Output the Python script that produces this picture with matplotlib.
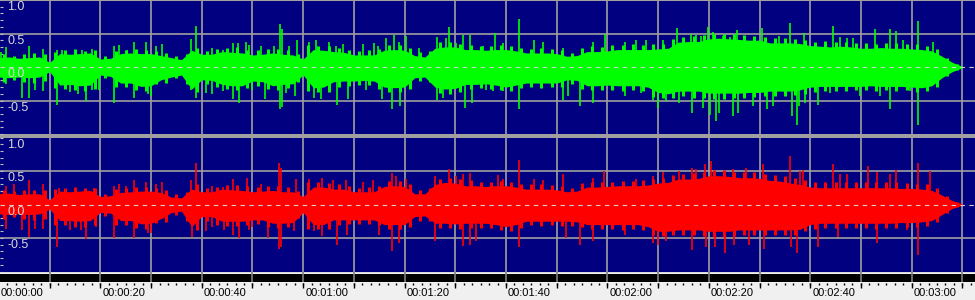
import numpy as np
import matplotlib.pyplot as plt

# ---- data ----
# body envelope of each channel, one value every 2 s (0 .. 190 s)
body_t = np.arange(0, 191, 2)
green_hi = [0.14, 0.15, 0.13, 0.14, 0.15, 0.07, 0.20, 0.19, 0.20, 0.21,
            0.12, 0.13, 0.20, 0.21, 0.20, 0.20, 0.17, 0.14, 0.11, 0.25,
            0.19, 0.19, 0.23, 0.22, 0.21, 0.18, 0.19, 0.21, 0.19, 0.18,
            0.12, 0.26, 0.25, 0.23, 0.22, 0.18, 0.18, 0.18, 0.25, 0.26,
            0.25, 0.17, 0.15, 0.28, 0.30, 0.30, 0.26, 0.26, 0.25, 0.26,
            0.26, 0.24, 0.21, 0.21, 0.21, 0.20, 0.16, 0.17, 0.23, 0.23,
            0.24, 0.26, 0.26, 0.26, 0.26, 0.27, 0.28, 0.37, 0.38, 0.38,
            0.42, 0.43, 0.42, 0.41, 0.40, 0.40, 0.36, 0.36, 0.36, 0.35,
            0.32, 0.31, 0.30, 0.31, 0.30, 0.28, 0.28, 0.29, 0.28, 0.28,
            0.27, 0.26, 0.24, 0.16, 0.07, 0.01]
green_lo = [0.15, 0.16, 0.15, 0.16, 0.15, 0.07, 0.27, 0.26, 0.28, 0.27,
            0.12, 0.14, 0.24, 0.24, 0.29, 0.28, 0.19, 0.15, 0.12, 0.33,
            0.19, 0.20, 0.26, 0.28, 0.28, 0.21, 0.22, 0.28, 0.26, 0.25,
            0.12, 0.31, 0.30, 0.22, 0.21, 0.21, 0.20, 0.21, 0.30, 0.31,
            0.30, 0.16, 0.15, 0.30, 0.33, 0.32, 0.26, 0.26, 0.25, 0.27,
            0.30, 0.27, 0.24, 0.24, 0.24, 0.24, 0.19, 0.20, 0.28, 0.28,
            0.27, 0.28, 0.28, 0.28, 0.30, 0.38, 0.40, 0.36, 0.36, 0.36,
            0.39, 0.39, 0.39, 0.39, 0.38, 0.38, 0.36, 0.36, 0.36, 0.34,
            0.30, 0.29, 0.29, 0.29, 0.29, 0.29, 0.28, 0.29, 0.29, 0.29,
            0.30, 0.31, 0.28, 0.16, 0.07, 0.01]
red_hi = [0.16, 0.17, 0.15, 0.16, 0.16, 0.07, 0.20, 0.19, 0.20, 0.21,
          0.12, 0.13, 0.18, 0.19, 0.20, 0.20, 0.18, 0.11, 0.10, 0.23,
          0.19, 0.19, 0.23, 0.22, 0.21, 0.19, 0.20, 0.21, 0.19, 0.19,
          0.12, 0.26, 0.26, 0.23, 0.23, 0.19, 0.19, 0.19, 0.27, 0.28,
          0.27, 0.16, 0.16, 0.30, 0.33, 0.32, 0.28, 0.28, 0.27, 0.28,
          0.28, 0.26, 0.23, 0.23, 0.23, 0.22, 0.19, 0.20, 0.26, 0.26,
          0.27, 0.28, 0.28, 0.28, 0.29, 0.32, 0.33, 0.38, 0.38, 0.39,
          0.43, 0.43, 0.42, 0.40, 0.40, 0.39, 0.36, 0.35, 0.32, 0.30,
          0.26, 0.25, 0.25, 0.25, 0.25, 0.25, 0.25, 0.25, 0.25, 0.24,
          0.24, 0.23, 0.21, 0.14, 0.06, 0.01]
red_lo = [0.14, 0.15, 0.14, 0.15, 0.14, 0.07, 0.24, 0.24, 0.25, 0.24,
          0.12, 0.13, 0.24, 0.24, 0.29, 0.28, 0.21, 0.12, 0.10, 0.33,
          0.18, 0.18, 0.25, 0.25, 0.25, 0.23, 0.23, 0.28, 0.28, 0.27,
          0.12, 0.30, 0.30, 0.23, 0.23, 0.23, 0.23, 0.23, 0.30, 0.30,
          0.30, 0.18, 0.17, 0.28, 0.28, 0.29, 0.28, 0.28, 0.28, 0.30,
          0.33, 0.30, 0.25, 0.25, 0.25, 0.25, 0.25, 0.26, 0.30, 0.30,
          0.30, 0.30, 0.30, 0.30, 0.33, 0.40, 0.40, 0.38, 0.38, 0.38,
          0.40, 0.40, 0.40, 0.38, 0.38, 0.38, 0.38, 0.38, 0.38, 0.37,
          0.30, 0.28, 0.28, 0.28, 0.28, 0.28, 0.28, 0.28, 0.28, 0.27,
          0.27, 0.26, 0.24, 0.15, 0.06, 0.01]

# ragged edge of the body: one tooth at every odd second (1 .. 189 s)
teeth_t = np.arange(1, 190, 2)
green_teeth_up = [0.20, 0.17, 0.20, 0.21, 0.19, 0.22, 0.25, 0.27, 0.24, 0.25,
                  0.16, 0.24, 0.26, 0.27, 0.25, 0.24, 0.21, 0.16, 0.20, 0.28,
                  0.24, 0.27, 0.29, 0.30, 0.25, 0.25, 0.27, 0.27, 0.26, 0.20,
                  0.33, 0.32, 0.31, 0.29, 0.26, 0.24, 0.25, 0.27, 0.33, 0.33,
                  0.29, 0.22, 0.24, 0.37, 0.38, 0.35, 0.33, 0.31, 0.32, 0.33,
                  0.32, 0.28, 0.27, 0.28, 0.27, 0.25, 0.21, 0.28, 0.31, 0.30,
                  0.33, 0.33, 0.34, 0.33, 0.34, 0.35, 0.42, 0.45, 0.46, 0.48,
                  0.50, 0.50, 0.49, 0.48, 0.47, 0.45, 0.44, 0.43, 0.42, 0.40,
                  0.38, 0.39, 0.38, 0.37, 0.36, 0.36, 0.35, 0.36, 0.36, 0.35,
                  0.34, 0.32, 0.27, 0.14, 0.05]
green_teeth_dn = [0.22, 0.20, 0.23, 0.24, 0.21, 0.32, 0.33, 0.35, 0.36, 0.33,
                  0.17, 0.30, 0.30, 0.35, 0.36, 0.26, 0.24, 0.17, 0.25, 0.38,
                  0.26, 0.30, 0.33, 0.35, 0.31, 0.28, 0.33, 0.35, 0.32, 0.22,
                  0.36, 0.38, 0.37, 0.30, 0.28, 0.27, 0.27, 0.33, 0.38, 0.38,
                  0.33, 0.21, 0.22, 0.39, 0.40, 0.37, 0.33, 0.32, 0.33, 0.35,
                  0.36, 0.32, 0.30, 0.31, 0.30, 0.30, 0.26, 0.33, 0.35, 0.34,
                  0.34, 0.36, 0.35, 0.36, 0.45, 0.47, 0.46, 0.44, 0.46, 0.47,
                  0.48, 0.48, 0.47, 0.46, 0.45, 0.44, 0.44, 0.43, 0.42, 0.40,
                  0.37, 0.36, 0.36, 0.36, 0.35, 0.35, 0.36, 0.35, 0.36, 0.35,
                  0.37, 0.36, 0.30, 0.14, 0.05]
red_teeth_up = [0.22, 0.20, 0.22, 0.21, 0.21, 0.23, 0.25, 0.26, 0.24, 0.25,
                0.16, 0.23, 0.24, 0.26, 0.26, 0.24, 0.22, 0.15, 0.19, 0.30,
                0.25, 0.26, 0.29, 0.29, 0.27, 0.26, 0.27, 0.27, 0.26, 0.20,
                0.33, 0.33, 0.32, 0.30, 0.28, 0.25, 0.26, 0.27, 0.35, 0.35,
                0.31, 0.22, 0.24, 0.38, 0.40, 0.38, 0.36, 0.34, 0.34, 0.35,
                0.34, 0.30, 0.30, 0.30, 0.29, 0.28, 0.25, 0.32, 0.33, 0.34,
                0.34, 0.35, 0.35, 0.36, 0.38, 0.40, 0.44, 0.46, 0.47, 0.49,
                0.52, 0.51, 0.49, 0.48, 0.48, 0.46, 0.44, 0.42, 0.40, 0.37,
                0.34, 0.34, 0.33, 0.33, 0.33, 0.34, 0.33, 0.33, 0.33, 0.32,
                0.31, 0.30, 0.24, 0.12, 0.04]
red_teeth_dn = [0.21, 0.19, 0.22, 0.23, 0.21, 0.30, 0.31, 0.33, 0.33, 0.30,
                0.17, 0.30, 0.30, 0.35, 0.36, 0.28, 0.26, 0.16, 0.24, 0.38,
                0.25, 0.30, 0.32, 0.32, 0.30, 0.29, 0.33, 0.35, 0.34, 0.20,
                0.36, 0.37, 0.36, 0.30, 0.29, 0.29, 0.29, 0.31, 0.37, 0.37,
                0.34, 0.24, 0.24, 0.35, 0.35, 0.36, 0.35, 0.35, 0.35, 0.38,
                0.39, 0.35, 0.31, 0.32, 0.31, 0.32, 0.32, 0.34, 0.37, 0.37,
                0.37, 0.38, 0.37, 0.38, 0.45, 0.47, 0.46, 0.46, 0.46, 0.47,
                0.48, 0.48, 0.47, 0.46, 0.46, 0.46, 0.46, 0.46, 0.45, 0.40,
                0.36, 0.35, 0.35, 0.35, 0.35, 0.35, 0.36, 0.35, 0.35, 0.34,
                0.34, 0.32, 0.26, 0.12, 0.04]

# single peaks sticking out of the body (time [s], amplitude)
green_up_t = [0.3, 1.4, 5.9, 8.6, 11.5, 12.5, 16.3, 18.4, 22.7, 23.7, 25.3, 26.6, 29.0,
              30.9, 32.2, 37.8, 38.8, 42.1, 44.1, 46.1, 47.1, 48.7, 49.4, 51.7, 54.3,
              55.5, 55.9, 57.2, 58.8, 61.2, 62.5, 65.1, 66.4, 67.8, 71.7, 73.9, 74.7,
              76.3, 77.9, 78.9, 80.2, 82.9, 86.4, 88.2, 88.8, 90.1, 91.5, 92.8, 95.4,
              97.8, 99.4, 102.5, 105.6, 107.2, 111.3, 117.2, 119.5, 123.4, 125.7, 127.7,
              131.0, 133.7, 135.2, 136.5, 137.5, 138.5, 139.9, 140.8, 142.8, 144.1,
              145.5, 147.1, 150.5, 153.9, 155.2, 156.0, 158.7, 164.4, 165.8, 167.2,
              168.5, 172.8, 175.7, 177.0, 178.3, 181.3, 184.3]
green_up_v = [0.23, 0.30, 0.32, 0.27, 0.26, 0.26, 0.26, 0.27, 0.31, 0.33, 0.26, 0.38, 0.37,
              0.31, 0.34, 0.42, 0.61, 0.28, 0.26, 0.36, 0.36, 0.38, 0.33, 0.31, 0.31,
              0.64, 0.56, 0.31, 0.41, 0.37, 0.41, 0.37, 0.31, 0.34, 0.34, 0.36, 0.31,
              0.43, 0.48, 0.38, 0.46, 0.28, 0.45, 0.43, 0.60, 0.36, 0.48, 0.48, 0.31,
              0.51, 0.36, 0.71, 0.41, 0.37, 0.28, 0.37, 0.50, 0.38, 0.41, 0.41,
              0.41, 0.58, 0.41, 0.50, 0.48, 0.46, 0.59, 0.52, 0.46, 0.45,
              0.55, 0.43, 0.58, 0.46, 0.41, 0.65, 0.51, 0.61, 0.45, 0.43,
              0.43, 0.56, 0.56, 0.54, 0.41, 0.69, 0.37]
green_dn_t = [1.4, 4.6, 5.9, 7.2, 8.6, 11.5, 14.0, 15.5, 17.1, 18.4, 19.7, 22.7, 26.6,
              29.3, 30.0, 37.8, 38.8, 40.8, 42.1, 44.1, 46.1, 47.4, 49.9, 52.4, 55.5,
              55.9, 56.6, 58.4, 62.2, 63.5, 66.7, 68.8, 72.4, 75.5, 77.6, 79.0, 86.4,
              87.6, 91.9, 93.2, 96.0, 97.5, 99.4, 102.5, 111.3, 112.2, 114.5, 117.2,
              123.4, 126.6, 129.0, 130.0, 131.6, 134.2, 136.7, 138.9, 140.2, 141.4,
              142.1, 144.8, 145.8, 148.8, 151.4, 152.7, 156.5, 157.3, 157.8, 158.9,
              161.6, 163.9, 169.8, 173.7, 175.7, 179.7, 181.3, 183.0]
green_dn_v = [0.26, 0.46, 0.47, 0.35, 0.36, 0.57, 0.38, 0.40, 0.50, 0.34, 0.35, 0.53, 0.47,
              0.41, 0.44, 0.34, 0.46, 0.39, 0.41, 0.36, 0.48, 0.53, 0.34, 0.48, 0.63,
              0.60, 0.39, 0.44, 0.46, 0.48, 0.57, 0.48, 0.35, 0.48, 0.63, 0.58, 0.49,
              0.46, 0.61, 0.53, 0.34, 0.36, 0.36, 0.62, 0.49, 0.44, 0.58, 0.53,
              0.44, 0.39, 0.49, 0.61, 0.51, 0.53, 0.68, 0.61, 0.71, 0.80,
              0.68, 0.73, 0.68, 0.58, 0.63, 0.58, 0.73, 0.87, 0.58, 0.53,
              0.56, 0.39, 0.44, 0.44, 0.63, 0.36, 0.87, 0.36]
red_up_t = [1.3, 3.0, 5.9, 8.6, 11.8, 18.8, 22.7, 23.7, 25.0, 26.6, 29.0, 30.9, 32.2,
            37.8, 38.8, 42.1, 44.1, 46.1, 49.0, 51.7, 55.3, 55.7, 58.5, 61.2, 63.8,
            65.8, 68.4, 71.7, 73.7, 77.6, 78.3, 80.3, 85.9, 88.7, 90.1, 91.5, 92.8,
            98.4, 99.4, 102.5, 105.6, 107.3, 111.2, 117.1, 119.4, 125.7, 129.0, 131.0,
            134.2, 136.7, 137.5, 139.2, 140.5, 144.8, 147.4, 150.7, 156.0, 157.9,
            158.6, 164.4, 165.8, 167.2, 171.4, 173.1, 175.7, 177.0, 181.3, 183.6]
red_up_v = [0.28, 0.30, 0.36, 0.30, 0.25, 0.25, 0.27, 0.30, 0.28, 0.36, 0.34, 0.30, 0.33,
            0.36, 0.62, 0.28, 0.26, 0.38, 0.39, 0.31, 0.62, 0.55, 0.38, 0.38, 0.40,
            0.36, 0.36, 0.33, 0.36, 0.47, 0.43, 0.38, 0.43, 0.53, 0.43, 0.45, 0.47,
            0.44, 0.38, 0.66, 0.38, 0.36, 0.45, 0.39, 0.50, 0.38, 0.43, 0.48,
            0.50, 0.55, 0.53, 0.60, 0.65, 0.53, 0.55, 0.61, 0.73, 0.50,
            0.51, 0.60, 0.45, 0.45, 0.57, 0.48, 0.45, 0.52, 0.62, 0.50]
red_dn_t = [1.3, 4.6, 5.9, 7.2, 8.6, 11.5, 14.1, 16.1, 17.1, 19.1, 22.7, 26.6, 29.3,
            29.9, 38.0, 40.8, 42.1, 44.3, 46.1, 47.4, 49.4, 50.0, 53.0, 55.3, 55.7,
            58.2, 62.2, 63.8, 66.7, 68.6, 75.0, 77.6, 78.9, 85.9, 91.5, 92.8, 94.1,
            102.5, 111.9, 114.5, 117.1, 123.4, 129.0, 130.0, 131.6, 136.7, 139.5,
            141.2, 143.1, 145.0, 148.0, 150.9, 156.3, 157.3, 161.6, 165.5, 173.1,
            179.1, 181.3]
red_dn_v = [0.36, 0.38, 0.48, 0.36, 0.37, 0.63, 0.38, 0.38, 0.52, 0.33, 0.50, 0.50, 0.43,
            0.43, 0.49, 0.40, 0.33, 0.38, 0.45, 0.50, 0.38, 0.33, 0.50, 0.67, 0.64,
            0.40, 0.40, 0.47, 0.60, 0.45, 0.45, 0.69, 0.57, 0.54, 0.62, 0.60, 0.55,
            0.64, 0.50, 0.60, 0.55, 0.45, 0.57, 0.60, 0.55, 0.68, 0.64,
            0.64, 0.72, 0.60, 0.60, 0.67, 0.63, 0.73, 0.63, 0.48, 0.58,
            0.38, 0.76]

y_labels = ["1.0", "0.5", "0.0", "-0.5"]
y_label_pos = [1.0, 0.5, 0.0, -0.5]

# ---- look of the editor ----
BG = "#000080"
GRID = "#a0a0a0"
T0, T1 = 0.2, 192.5          # visible time span [s]

fig = plt.figure(figsize=(9.75, 3), dpi=100, facecolor="#a0a0a0")
ax_top = fig.add_axes([0, 1 - 134 / 300, 1, 134 / 300])
ax_bot = fig.add_axes([0, 28.5 / 300, 1, 134 / 300])
ax_time = fig.add_axes([0, 0, 1, 28.5 / 300])


def channel(ax, hi, lo, th, tl, up_t, up_v, dn_t, dn_v, color):
    ax.set_facecolor(BG)
    ax.set_xlim(T0, T1)
    ax.set_ylim(-1, 1)
    for t in np.arange(0, 191, 10):
        ax.axvline(t, color=GRID, lw=1.2, zorder=1)
    for v in (0.5, -0.5):
        ax.axhline(v, color=GRID, lw=1.2, zorder=1)
    ax.fill_between(body_t, -np.array(lo), hi, color=color, lw=0, zorder=2)
    ax.vlines(teeth_t, -np.array(tl), th, color=color, lw=2.2, zorder=2)
    ax.vlines(up_t, 0, up_v, color=color, lw=1.2, zorder=2)
    ax.vlines(dn_t, -np.array(dn_v), 0, color=color, lw=1.2, zorder=2)
    ax.axhline(0, color="#d0d0d0", lw=0.8, dashes=(4, 4), zorder=3)
    for lab, v in zip(y_labels, y_label_pos):
        ax.text(7 / 975, v - 0.11, lab, transform=ax.get_yaxis_transform(),
                color="#d8d8d8", fontsize=9, family="Liberation Sans",
                ha="left", va="center", zorder=4)
    ax.set_yticks(np.arange(-1, 1.01, 0.1))
    ax.tick_params(axis="y", direction="in", length=2, width=0.8, color="#c0c0c0",
                   labelleft=False)
    ax.set_xticks([])
    for s in ax.spines.values():
        s.set_visible(False)


channel(ax_top, green_hi, green_lo, green_teeth_up, green_teeth_dn,
        green_up_t, green_up_v, green_dn_t, green_dn_v, "#00ff00")
channel(ax_bot, red_hi, red_lo, red_teeth_up, red_teeth_dn,
        red_up_t, red_up_v, red_dn_t, red_dn_v, "#ff0000")
ax_top.spines["top"].set_visible(True)
ax_top.spines["top"].set_color(GRID)
ax_top.spines["top"].set_linewidth(1.5)

# time ruler under the channels (y counted in pixels from the top)
ax_time.set_xlim(T0, T1)
ax_time.set_ylim(28.5, 0)
ax_time.axhspan(0, 1.5, color="#d8d8d8", lw=0)
ax_time.axhspan(1.5, 2.5, color="#f0f0f0", lw=0)
ax_time.axhspan(2.5, 10.5, color="black", lw=0)
ax_time.axhspan(10.5, 28.5, color="#f0f0f0", lw=0)
ax_time.vlines(np.arange(0, 191, 10), 0, 10.5, color="#808080", lw=1.2)
ax_time.vlines(np.arange(0, 192, 10 / 6), 11.5, 13.5, color="black", lw=1)
ax_time.vlines(np.arange(0, 191, 10), 11, 16, color="black", lw=1)
for t in range(0, 191, 20):
    ax_time.text(t + 0.4, 21.5, "00:%02d:%02d" % (t // 60, t % 60), color="black",
                 fontsize=8, family="Liberation Sans", ha="left", va="center")
ax_time.axis("off")

fig.savefig("out.png", dpi=100, facecolor=fig.get_facecolor())
